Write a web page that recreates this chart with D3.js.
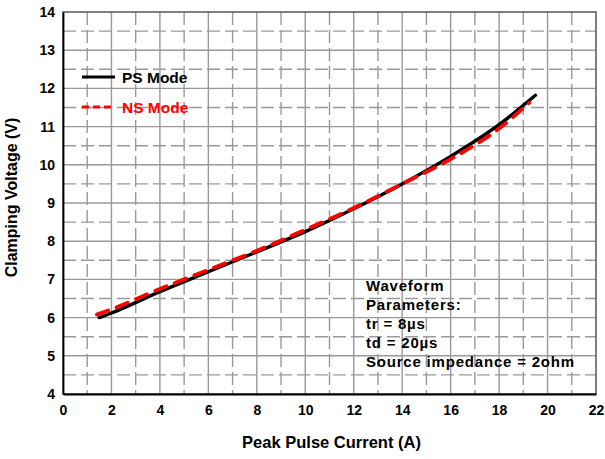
<!DOCTYPE html>
<html>
<head>
<meta charset="utf-8">
<script src="https://cdn.jsdelivr.net/npm/d3@7"></script>
<style>
  body { margin: 0; background: #fff; }
  text { font-family: Arial, "Liberation Sans", sans-serif; font-weight: bold; }
</style>
</head>
<body>
<div id="chart"></div>
<script>
// data
var psCurrent = [1.5, 2, 4, 6, 8, 10, 12, 14, 16, 18, 19.5];
var psVoltage = [6.0, 6.12, 6.68, 7.2, 7.72, 8.25, 8.85, 9.5, 10.22, 11.05, 11.82];
var nsCurrent = [1.4, 2, 4, 6, 8, 10, 12, 14, 16, 18, 19.25];
var nsVoltage = [6.08, 6.22, 6.75, 7.25, 7.75, 8.3, 8.87, 9.5, 10.15, 10.95, 11.63];
var xTicks = [0, 2, 4, 6, 8, 10, 12, 14, 16, 18, 20, 22];
var yTicks = [4, 5, 6, 7, 8, 9, 10, 11, 12, 13, 14];
var noteLines = ["Waveform", "Parameters:", "tr = 8\u00b5s", "td = 20\u00b5s", "Source impedance = 2ohm"];

var W = 605, H = 459;
var margin = {top: 12, right: 9, bottom: 65, left: 63},
    width = W - margin.left - margin.right,
    height = H - margin.top - margin.bottom;

var svg = d3.select("#chart").append("svg")
    .attr("width", W)
    .attr("height", H)
  .append("g")
    .attr("transform", "translate(" + margin.left + "," + margin.top + ")");

var x = d3.scaleLinear().domain([0, 22]).range([0, width]);
var y = d3.scaleLinear().domain([4, 14]).range([height, 0]);

// grid: solid at majors, dashed at minors
var grid = svg.append("g");
d3.range(1, 22).forEach(function(v) {
  grid.append("line")
    .attr("x1", x(v)).attr("x2", x(v)).attr("y1", 0).attr("y2", height)
    .attr("stroke", "#999").attr("stroke-width", 1.4)
    .attr("stroke-dasharray", v % 2 ? "13,5" : null);
});
d3.range(4.5, 14, 0.5).forEach(function(v) {
  grid.append("line")
    .attr("y1", y(v)).attr("y2", y(v)).attr("x1", 0).attr("x2", width)
    .attr("stroke", "#999").attr("stroke-width", 1.4)
    .attr("stroke-dasharray", v % 1 ? "13,5" : null);
});

// frame
svg.append("rect")
  .attr("width", width).attr("height", height)
  .attr("fill", "none").attr("stroke", "#555").attr("stroke-width", 1.5);

// axes
var xAxis = svg.append("g")
  .attr("transform", "translate(0," + height + ")")
  .call(d3.axisBottom(x).tickValues(xTicks).tickSize(0).tickPadding(11));
var yAxis = svg.append("g")
  .call(d3.axisLeft(y).tickValues(yTicks).tickSize(0).tickPadding(8));
[xAxis, yAxis].forEach(function(a) {
  a.select(".domain").attr("stroke", "#000").attr("stroke-width", 1.8);
  a.selectAll("text").attr("font-size", 14).attr("fill", "#000")
    .attr("font-family", "Arial, 'Liberation Sans', sans-serif").attr("font-weight", "bold");
});

// curves
var line = d3.line().x(function(d) { return x(d[0]); }).y(function(d) { return y(d[1]); })
  .curve(d3.curveMonotoneX);
var ps = psCurrent.map(function(c, i) { return [c, psVoltage[i]]; });
var ns = nsCurrent.map(function(c, i) { return [c, nsVoltage[i]]; });

svg.append("path").datum(ps).attr("d", line)
  .attr("fill", "none").attr("stroke", "#000").attr("stroke-width", 3.4)
  .attr("stroke-linecap", "round");
svg.append("path").datum(ns).attr("d", line)
  .attr("fill", "none").attr("stroke", "#ff0000").attr("stroke-width", 3.8)
  .attr("stroke-dasharray", "12,9").attr("stroke-linecap", "round");

// legend
var legend = svg.append("g").attr("transform", "translate(19,65)");
legend.append("line").attr("x1", 0).attr("x2", 33).attr("y1", 0).attr("y2", 0)
  .attr("stroke", "#000").attr("stroke-width", 3.2);
legend.append("text").attr("x", 40).attr("y", 6).attr("font-size", 15.5).text("PS Mode");
legend.append("line").attr("x1", 0).attr("x2", 33).attr("y1", 30).attr("y2", 30)
  .attr("stroke", "#ff0000").attr("stroke-width", 3.2).attr("stroke-dasharray", "7,4");
legend.append("text").attr("x", 40).attr("y", 36).attr("font-size", 15.5)
  .attr("fill", "#ff0000").text("NS Mode");

// note
svg.append("g").selectAll("text").data(noteLines).enter().append("text")
  .attr("x", 303)
  .attr("y", function(d, i) { return 279 + i * 19; })
  .attr("font-size", 15)
  .attr("letter-spacing", 0.8)
  .text(function(d) { return d; });

// axis titles
svg.append("text")
  .attr("x", width / 2 + 2).attr("y", height + 54)
  .attr("text-anchor", "middle").attr("font-size", 16.5)
  .text("Peak Pulse Current (A)");
svg.append("text")
  .attr("transform", "translate(" + (-46) + "," + 185.5 + ") rotate(-90)")
  .attr("text-anchor", "middle").attr("font-size", 16)
  .text("Clamping Voltage (V)");
</script>
</body>
</html>
